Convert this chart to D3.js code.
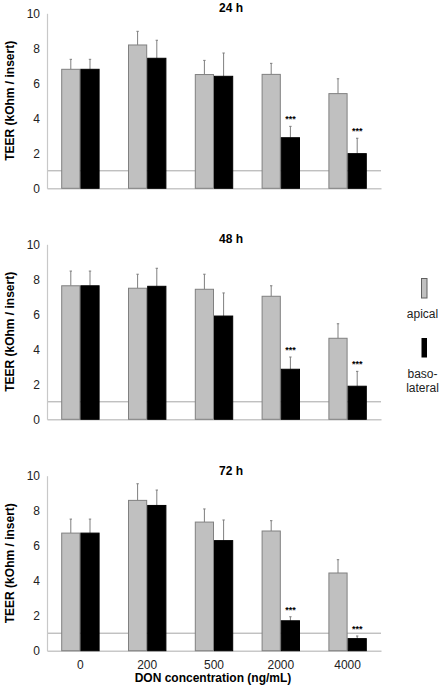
<!DOCTYPE html>
<html><head><meta charset="utf-8">
<script src="https://cdn.jsdelivr.net/npm/d3@7"></script>
<style>body{margin:0;background:#fff}svg{display:block;font-family:"Liberation Sans",Arial,sans-serif}</style>
</head><body><svg id="c" width="446" height="688"></svg>
<script>
const categories = ["0","200","500","2000","4000"];
const panelTitles = ["24 h","48 h","72 h"];
const yTicks = [0,2,4,6,8,10];
const apical24 = [6.8,8.19,6.5,6.51,5.41];
const apical24Sd = [0.57,0.78,0.81,0.63,0.85];
const baso24 = [6.8,7.43,6.4,2.89,1.98];
const baso24Sd = [0.57,1.03,1.33,0.65,0.88];
const apical48 = [7.63,7.49,7.43,7.03,4.63];
const apical48Sd = [0.84,0.8,0.86,0.6,0.83];
const baso48 = [7.63,7.6,5.9,2.86,1.89];
const baso48Sd = [0.84,1.03,1.32,0.7,0.85];
const apical72 = [6.72,8.59,7.35,6.84,4.44];
const apical72Sd = [0.8,0.95,0.75,0.59,0.76];
const baso72 = [6.72,8.3,6.29,1.71,0.69];
const baso72Sd = [0.8,0.88,1.18,0.23,0.15];
const baselineValue = 1;
const signif = ["","","","***","***"];

const panels = [
  {title:panelTitles[0], a:apical24, aSd:apical24Sd, b:baso24, bSd:baso24Sd, top:13.3},
  {title:panelTitles[1], a:apical48, aSd:apical48Sd, b:baso48, bSd:baso48Sd, top:244.3},
  {title:panelTitles[2], a:apical72, aSd:apical72Sd, b:baso72, bSd:baso72Sd, top:475.7}
];
const svg = d3.select("#c");
const x0 = 47, x1 = 381, H = 175;
const x = d3.scaleBand().domain(categories).range([x0,x1]).paddingInner(0).paddingOuter(0);
const barW = 19.2;
const series = [{key:"a", sd:"aSd", fill:"#c0c0c0", stroke:"#808080", off:-barW},
                {key:"b", sd:"bSd", fill:"#000000", stroke:"#000000", off:0}];

panels.forEach((p,pi)=>{
  const y = d3.scaleLinear().domain([0,10]).range([p.top+H, p.top]);
  const g = svg.append("g");
  // baseline at 1
  g.append("line").attr("x1",x0).attr("x2",x1).attr("y1",y(baselineValue)).attr("y2",y(baselineValue))
    .attr("stroke","#a6a6a6").attr("stroke-width",1);
  // y axis
  const ya = g.append("g").attr("transform",`translate(${x0},0)`)
    .call(d3.axisLeft(y).tickValues(yTicks).tickSize(0).tickPadding(7));
  ya.select(".domain").attr("stroke","#c8c8c8").attr("stroke-width",1.2);
  ya.selectAll("text").attr("font-size",12).attr("fill","#222").attr("font-family","Liberation Sans, Arial");
  // x axis line
  const xa = g.append("g").attr("transform",`translate(0,${y(0)})`)
    .call(d3.axisBottom(x).tickSize(0).tickFormat(pi===2? (d=>d) : ()=>"").tickPadding(10));
  xa.select(".domain").attr("stroke","#c8c8c8").attr("stroke-width",1.5);
  xa.selectAll("text").attr("font-size",12).attr("fill","#222").attr("font-family","Liberation Sans, Arial");
  // bars
  series.forEach(s=>{
    const vals = p[s.key], sds = p[s.sd];
    categories.forEach((c,i)=>{
      const cx = x(c)+x.bandwidth()/2;
      const bx = cx + s.off;
      const top = y(vals[i]), et = y(vals[i]+sds[i]);
      const ecx = bx + barW/2;
      g.append("line").attr("x1",ecx).attr("x2",ecx).attr("y1",top).attr("y2",et)
        .attr("stroke","#7f7f7f").attr("stroke-width",1);
      g.append("line").attr("x1",ecx-1.2).attr("x2",ecx+1.2).attr("y1",et).attr("y2",et)
        .attr("stroke","#7f7f7f").attr("stroke-width",1);
      g.append("rect").attr("x",bx+0.5).attr("y",top).attr("width",barW-1).attr("height",y(0)-top)
        .attr("fill",s.fill).attr("stroke",s.stroke).attr("stroke-width",1);
      if(s.key==="b" && signif[i]){
        g.append("text").attr("x",ecx).attr("y",et-4).attr("text-anchor","middle")
          .attr("font-size",9).attr("font-weight","bold").text(signif[i]);
      }
    });
  });
  // title
  g.append("text").attr("x",231).attr("y",p.top-1).attr("text-anchor","middle")
    .attr("font-size",12).attr("font-weight","bold").text(p.title);
  // y label
  g.append("text").attr("transform",`translate(14,${p.top+H/2}) rotate(-90)`).attr("text-anchor","middle")
    .attr("font-size",12).attr("font-weight","bold").text("TEER (kOhm / insert)");
});
// x label
svg.append("text").attr("x",213).attr("y",682).attr("text-anchor","middle")
  .attr("font-size",12).attr("font-weight","bold").text("DON concentration (ng/mL)");
// legend
const lg = svg.append("g");
lg.append("rect").attr("x",421.5).attr("y",278.5).attr("width",5.5).attr("height",19.5)
  .attr("fill","#c0c0c0").attr("stroke","#606060").attr("stroke-width",1);
lg.append("text").attr("x",422.5).attr("y",318).attr("text-anchor","middle").attr("font-size",12).attr("fill","#222").text("apical");
lg.append("rect").attr("x",421.5).attr("y",338).attr("width",5.5).attr("height",19.5).attr("fill","#000");
lg.append("text").attr("x",422.5).attr("y",377.5).attr("text-anchor","middle").attr("font-size",12).attr("fill","#222").text("baso-");
lg.append("text").attr("x",422.5).attr("y",392).attr("text-anchor","middle").attr("font-size",12).attr("fill","#222").text("lateral");
</script></body></html>
